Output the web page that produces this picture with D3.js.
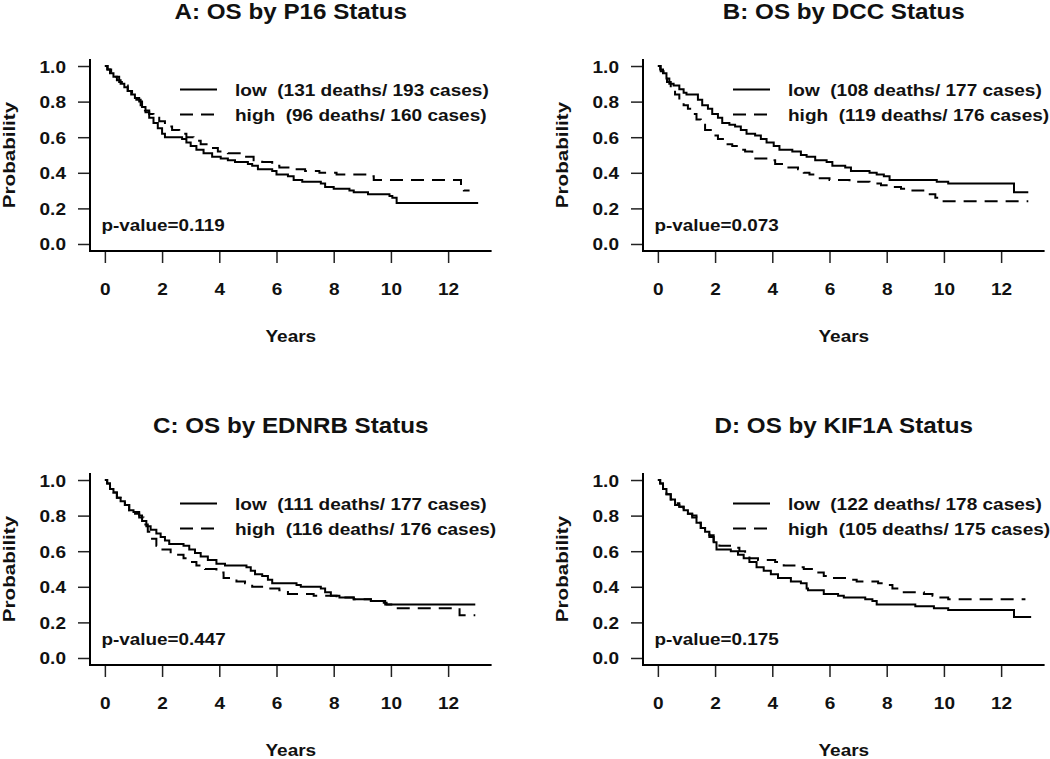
<!DOCTYPE html>
<html>
<head>
<meta charset="utf-8">
<script src="https://cdn.jsdelivr.net/npm/d3@7"></script>
<style>
  html, body { margin: 0; padding: 0; background: #fff; }
  svg text { font-family: "Liberation Sans", Arial, Helvetica, sans-serif; font-weight: bold; fill: #111; white-space: pre; }
</style>
</head>
<body>
<svg id="chart" width="1050" height="759"></svg>
<script>
// ---- data ----
const panelTitles = ["A: OS by P16 Status", "B: OS by DCC Status", "C: OS by EDNRB Status", "D: OS by KIF1A Status"];
const lowLabels  = ["low  (131 deaths/ 193 cases)", "low  (108 deaths/ 177 cases)", "low  (111 deaths/ 177 cases)", "low  (122 deaths/ 178 cases)"];
const highLabels = ["high  (96 deaths/ 160 cases)", "high  (119 deaths/ 176 cases)", "high  (116 deaths/ 176 cases)", "high  (105 deaths/ 175 cases)"];
const pValues = ["p-value=0.119", "p-value=0.073", "p-value=0.447", "p-value=0.175"];
const xTicks = [0, 2, 4, 6, 8, 10, 12];
const yTicks = [0.0, 0.2, 0.4, 0.6, 0.8, 1.0];
const xLabel = "Years";
const yLabel = "Probability";

// [years, survival probability] step points
const aLow = [[0,1.00],[0.08,0.98],[0.18,0.96],[0.3,0.94],[0.42,0.92],[0.55,0.90],[0.68,0.88],[0.8,0.86],[0.92,0.84],[1.05,0.82],[1.2,0.80],[1.3,0.77],[1.42,0.74],[1.55,0.71],[1.7,0.68],[1.85,0.65],[2.0,0.62],[2.1,0.60],[2.7,0.59],[2.85,0.57],[3.0,0.55],[3.2,0.53],[3.45,0.51],[3.75,0.49],[4.05,0.48],[4.3,0.47],[4.55,0.46],[5.0,0.45],[5.15,0.44],[5.35,0.42],[5.85,0.41],[6.0,0.39],[6.4,0.38],[6.6,0.36],[6.9,0.35],[7.55,0.34],[7.7,0.32],[8.0,0.31],[8.55,0.30],[8.7,0.29],[9.2,0.28],[9.95,0.27],[10.05,0.26],[10.2,0.23],[13.05,0.23]];
const aHigh = [[0,1.00],[0.1,0.98],[0.22,0.96],[0.35,0.94],[0.5,0.91],[0.65,0.89],[0.8,0.86],[0.95,0.84],[1.1,0.81],[1.25,0.78],[1.4,0.75],[1.55,0.73],[1.7,0.71],[1.9,0.69],[2.1,0.66],[2.35,0.64],[2.6,0.62],[2.85,0.60],[3.1,0.58],[3.35,0.56],[3.6,0.54],[3.95,0.52],[4.3,0.51],[4.9,0.49],[5.2,0.47],[5.5,0.46],[5.85,0.44],[6.1,0.43],[6.5,0.42],[7.0,0.41],[7.5,0.40],[8.1,0.39],[9.2,0.38],[9.4,0.36],[12.35,0.36],[12.45,0.31],[12.55,0.30],[12.75,0.30]];
const bLow = [[0,1.00],[0.08,0.98],[0.18,0.96],[0.3,0.93],[0.4,0.90],[0.55,0.89],[0.75,0.87],[0.9,0.85],[1.0,0.84],[1.3,0.84],[1.4,0.81],[1.55,0.78],[1.75,0.76],[1.9,0.73],[2.1,0.71],[2.25,0.68],[2.5,0.67],[2.7,0.66],[2.9,0.64],[3.1,0.62],[3.4,0.61],[3.6,0.59],[3.8,0.57],[4.05,0.55],[4.25,0.53],[4.7,0.52],[5.0,0.50],[5.2,0.49],[5.5,0.47],[5.9,0.46],[6.1,0.44],[6.55,0.43],[6.75,0.41],[7.4,0.40],[7.65,0.39],[7.9,0.38],[8.1,0.36],[9.6,0.36],[9.75,0.35],[10.15,0.34],[12.4,0.34],[12.45,0.29],[12.95,0.29]];
const bHigh = [[0,1.00],[0.1,0.97],[0.2,0.94],[0.32,0.91],[0.45,0.88],[0.6,0.84],[0.75,0.81],[0.9,0.78],[1.05,0.76],[1.2,0.73],[1.35,0.70],[1.5,0.67],[1.65,0.64],[1.85,0.61],[2.1,0.59],[2.35,0.56],[2.6,0.55],[2.85,0.53],[3.05,0.52],[3.3,0.48],[3.9,0.47],[4.1,0.45],[4.5,0.43],[4.9,0.42],[5.1,0.40],[5.3,0.39],[5.6,0.37],[6.0,0.36],[6.7,0.35],[7.4,0.34],[7.8,0.33],[8.05,0.32],[8.5,0.31],[8.9,0.30],[9.4,0.28],[9.7,0.26],[9.95,0.24],[12.95,0.24]];
const cLow = [[0,1.00],[0.08,0.98],[0.18,0.95],[0.3,0.93],[0.42,0.90],[0.55,0.88],[0.7,0.86],[0.85,0.83],[1.0,0.82],[1.2,0.80],[1.3,0.77],[1.45,0.74],[1.6,0.72],[1.8,0.70],[1.95,0.68],[2.1,0.66],[2.25,0.64],[2.75,0.63],[2.95,0.61],[3.15,0.59],[3.35,0.57],[3.6,0.55],[3.9,0.53],[4.2,0.52],[4.95,0.51],[5.1,0.49],[5.25,0.47],[5.5,0.46],[5.7,0.44],[5.85,0.42],[6.7,0.41],[6.85,0.40],[7.55,0.39],[7.7,0.37],[7.9,0.35],[8.2,0.34],[8.7,0.33],[9.3,0.32],[9.75,0.31],[9.85,0.30],[12.95,0.30]];
const cHigh = [[0,1.00],[0.08,0.98],[0.18,0.95],[0.3,0.93],[0.42,0.90],[0.55,0.88],[0.7,0.86],[0.85,0.83],[1.0,0.81],[1.2,0.79],[1.35,0.75],[1.5,0.71],[1.65,0.67],[1.8,0.63],[1.95,0.61],[2.3,0.58],[2.75,0.56],[2.95,0.54],[3.2,0.52],[3.5,0.50],[3.9,0.48],[4.15,0.45],[4.6,0.43],[4.9,0.42],[5.15,0.40],[5.6,0.39],[6.1,0.38],[6.4,0.36],[7.3,0.35],[8.1,0.34],[8.7,0.33],[9.3,0.32],[9.8,0.30],[10.1,0.28],[12.35,0.28],[12.4,0.24],[12.95,0.24]];
const dLow = [[0,1.00],[0.08,0.98],[0.18,0.95],[0.3,0.92],[0.45,0.89],[0.6,0.86],[0.75,0.85],[0.9,0.83],[1.05,0.81],[1.2,0.80],[1.35,0.76],[1.5,0.73],[1.65,0.71],[1.8,0.69],[1.95,0.65],[2.05,0.61],[2.55,0.60],[2.8,0.58],[3.0,0.56],[3.2,0.54],[3.45,0.51],[3.7,0.49],[3.95,0.47],[4.2,0.45],[4.65,0.43],[5.0,0.42],[5.2,0.39],[5.25,0.38],[5.8,0.36],[6.3,0.35],[6.5,0.34],[7.25,0.33],[7.5,0.32],[7.65,0.30],[9.0,0.29],[9.65,0.28],[10.15,0.27],[12.4,0.27],[12.45,0.23],[13.05,0.23]];
const dHigh = [[0,1.00],[0.08,0.98],[0.18,0.95],[0.3,0.92],[0.45,0.89],[0.6,0.87],[0.75,0.85],[0.9,0.83],[1.05,0.81],[1.2,0.79],[1.35,0.76],[1.5,0.73],[1.65,0.71],[1.8,0.68],[1.95,0.65],[2.15,0.63],[2.6,0.62],[2.85,0.60],[3.05,0.58],[3.2,0.56],[3.5,0.55],[4.1,0.54],[4.4,0.52],[4.9,0.51],[5.1,0.50],[5.45,0.48],[5.8,0.46],[6.0,0.45],[6.7,0.44],[6.95,0.43],[7.7,0.42],[8.05,0.41],[8.2,0.39],[8.45,0.37],[9.3,0.36],[9.6,0.35],[9.75,0.34],[10.15,0.33],[12.85,0.33]];

const lowSeries = [aLow, bLow, cLow, dLow];
const highSeries = [aHigh, bHigh, cHigh, dHigh];

// ---- layout ----
const offsets = [[0, 0], [553, 0], [0, 414], [553, 414]];
const svg = d3.select("#chart");

function txt(g, x, y, s, size, anchor, sx, rot) {
  return g.append("text")
    .attr("transform", `translate(${x},${y})` + (rot ? ` rotate(${rot})` : "") + ` scale(${sx},1)`)
    .attr("text-anchor", anchor)
    .style("font-size", size + "px")
    .text(s);
}

panelTitles.forEach((title, i) => {
  const g = svg.append("g").attr("transform", `translate(${offsets[i][0]},${offsets[i][1]})`);
  const x = d3.scaleLinear().domain([-0.52, 13.52]).range([90, 491.6]);
  const y = d3.scaleLinear().domain([-0.04, 1.04]).range([251.1, 58.9]);

  // L-shaped box
  g.append("path")
    .attr("d", `M${x.range()[0]},${y.range()[1]}V${y.range()[0]}H${x.range()[1]}`)
    .attr("fill", "none").attr("stroke", "#000").attr("stroke-width", 2);

  // y axis
  const ya = g.append("g").attr("transform", "translate(89,0)")
    .call(d3.axisLeft(y).tickValues(yTicks).tickSize(11).tickSizeOuter(0).tickPadding(12).tickFormat(d3.format(".1f")));
  ya.select(".domain").remove();
  ya.selectAll(".tick line").attr("stroke", "#222").attr("stroke-width", 1.5);
  ya.selectAll(".tick text").each(function () {
    const t = d3.select(this);
    const xx = +t.attr("x");
    t.attr("x", null).attr("dy", null)
      .attr("transform", `translate(${xx},6) scale(1.12,1)`)
      .style("font-size", "17px").attr("fill", "#111");
  });

  // x axis
  const xa = g.append("g").attr("transform", "translate(0,252)")
    .call(d3.axisBottom(x).tickValues(xTicks).tickSize(11).tickSizeOuter(0).tickPadding(21));
  xa.select(".domain").remove();
  xa.selectAll(".tick line").attr("stroke", "#222").attr("stroke-width", 1.5);
  xa.selectAll(".tick text").each(function () {
    const t = d3.select(this);
    const yy = +t.attr("y");
    t.attr("y", null).attr("dy", null)
      .attr("transform", `translate(0,${yy + 11}) scale(1.12,1)`)
      .style("font-size", "17px").attr("fill", "#111");
  });

  // curves
  const line = d3.line().x(d => x(d[0])).y(d => y(d[1])).curve(d3.curveStepAfter);
  g.append("path").datum(lowSeries[i]).attr("d", line)
    .attr("fill", "none").attr("stroke", "#000").attr("stroke-width", 2);
  g.append("path").datum(highSeries[i]).attr("d", line)
    .attr("fill", "none").attr("stroke", "#000").attr("stroke-width", 2)
    .attr("stroke-dasharray", "13,8");

  // legend
  g.append("line").attr("x1", 180).attr("x2", 217).attr("y1", 89.5).attr("y2", 89.5)
    .attr("stroke", "#000").attr("stroke-width", 2);
  g.append("line").attr("x1", 180).attr("x2", 217).attr("y1", 114.5).attr("y2", 114.5)
    .attr("stroke", "#000").attr("stroke-width", 2).attr("stroke-dasharray", "13,8");
  txt(g, 235, 95.5, lowLabels[i], 17, "start", 1.12);
  txt(g, 235, 120.5, highLabels[i], 17, "start", 1.12);

  // p-value
  txt(g, 101.5, 230.5, pValues[i], 17, "start", 1.11);

  // titles and axis labels
  txt(g, (x.range()[0] + x.range()[1]) / 2, 18.5, title, 22, "middle", 1.1);
  txt(g, (x.range()[0] + x.range()[1]) / 2, 342, xLabel, 17, "middle", 1.12);
  txt(g, 15, (y.range()[0] + y.range()[1]) / 2, yLabel, 17, "middle", 1.21, -90);
});
</script>
</body>
</html>
